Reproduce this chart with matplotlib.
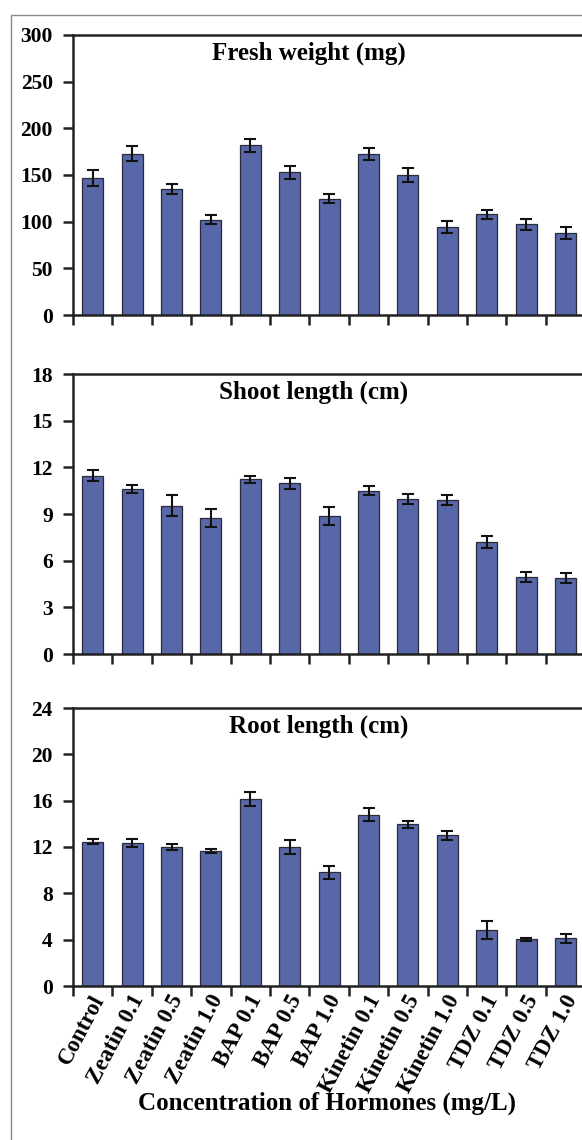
import matplotlib
matplotlib.use("Agg")
import matplotlib.pyplot as plt
import matplotlib.patches as pth
import numpy as np

plt.rcParams["font.family"] = ["Liberation Serif", "DejaVu Serif"]
plt.rcParams["font.weight"] = "bold"

categories = ["Control", "Zeatin 0.1", "Zeatin 0.5", "Zeatin 1.0",
              "BAP 0.1", "BAP 0.5", "BAP 1.0",
              "Kinetin 0.1", "Kinetin 0.5", "Kinetin 1.0",
              "TDZ 0.1", "TDZ 0.5", "TDZ 1.0"]

fresh_weight = [147, 172.6, 135, 102, 182, 153, 124.5, 172.6, 150, 94.5, 108, 97, 88]
fresh_err = [8.5, 8, 5.5, 5, 7, 7, 5, 6.5, 7, 6.5, 5, 5.5, 6.5]

shoot_length = [11.47, 10.6, 9.52, 8.72, 11.22, 10.98, 8.9, 10.5, 9.97, 9.87, 7.21, 4.95, 4.88]
shoot_err = [0.35, 0.25, 0.67, 0.58, 0.22, 0.36, 0.58, 0.3, 0.32, 0.32, 0.39, 0.3, 0.3]

root_length = [12.45, 12.35, 12.0, 11.65, 16.15, 12.0, 9.8, 14.8, 13.95, 13.0, 4.85, 4.02, 4.12]
root_err = [0.2, 0.35, 0.23, 0.2, 0.57, 0.6, 0.58, 0.58, 0.32, 0.38, 0.8, 0.15, 0.4]

titles = ["Fresh weight (mg)", "Shoot length (cm)", "Root length (cm)"]
ylims = [300, 18, 24]
ysteps = [50, 3, 4]
title_x = [0.46, 0.47, 0.48]
xlabel = "Concentration of Hormones (mg/L)"

W, H = 582, 1140
fig = plt.figure(figsize=(W / 100, H / 100), dpi=100)

# outer frame of the original figure
fig.patches.append(pth.Rectangle((11 / W, -0.01), 1.1, 1 - 15 / H + 0.01,
                                 transform=fig.transFigure, fill=False,
                                 edgecolor="#8a8a8a", linewidth=1))

# axes boxes in pixels: left, top, bottom
left, cell = 73, 39.4
boxes = [(35, 315), (374, 654), (708, 986)]
x = np.arange(len(categories))

series = [(fresh_weight, fresh_err), (shoot_length, shoot_err), (root_length, root_err)]

for i, ((top, bot), (vals, errs)) in enumerate(zip(boxes, series)):
    ax = fig.add_axes([left / W, 1 - bot / H, 13 * cell / W, (bot - top) / H])
    ax.bar(x, vals, width=0.53, color="#5867a8", edgecolor="#2a2a3a",
           linewidth=0.9, zorder=2)
    ax.errorbar(x, vals, yerr=errs, fmt="none", ecolor="#111111",
                elinewidth=1.5, capsize=4.5, capthick=1.5, zorder=3)
    ax.set_yticks(np.arange(0, ylims[i] + 0.01, ysteps[i]))
    for s in ax.spines.values():
        s.set_linewidth(1.8)
        s.set_color("#222222")
    ax.tick_params(axis="y", direction="out", length=7, width=1.8,
                   pad=7.5, labelsize=15.5, color="#222222")
    # category boundaries carry the visible tick marks
    ax.set_xticks(np.arange(-0.5, 13, 1), minor=True)
    ax.tick_params(axis="x", which="minor", direction="out", length=7,
                   width=1.8, color="#222222")
    ax.tick_params(axis="x", which="major", length=0)
    ax.text(title_x[i], 0.935, titles[i], transform=ax.transAxes,
            ha="center", va="center", fontsize=18, fontweight="bold")
    if i < 2:
        ax.set_xticks(x)
        ax.set_xticklabels([])
    else:
        # rotated labels end near the right edge of their bar, like the original
        ax.set_xticks(x + 0.18)
        ax.set_xticklabels(categories, rotation=62, ha="right",
                           rotation_mode="anchor", va="center", fontsize=16.5)
        ax.tick_params(axis="x", which="major", pad=7.5)
        fig.text(327 / W, 1 - 1103 / H, xlabel, ha="center", va="center",
                 fontsize=18, fontweight="bold")
    ax.set_xlim(-0.5, 12.5)
    ax.set_ylim(0, ylims[i])

fig.savefig("out.png", dpi=100)
